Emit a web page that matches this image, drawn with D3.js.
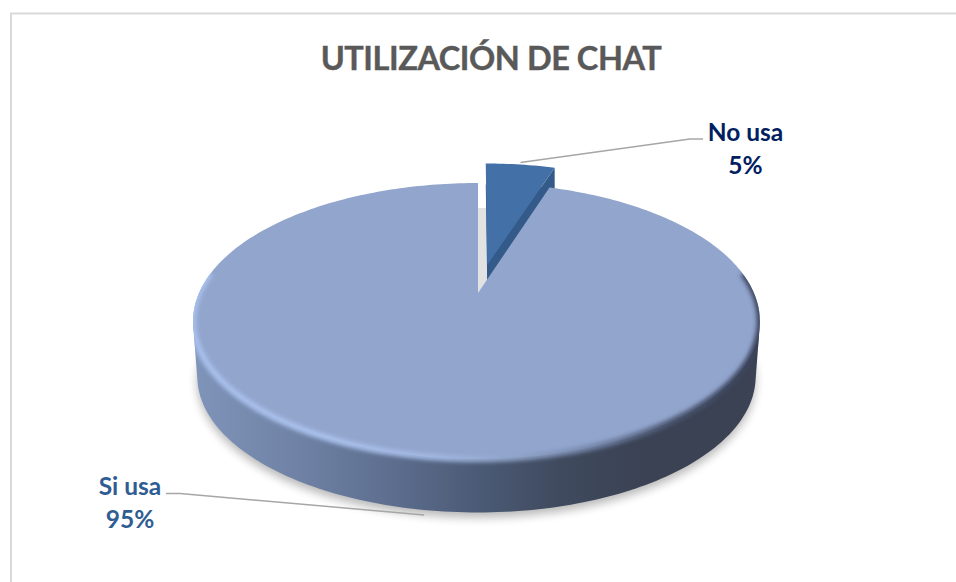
<!DOCTYPE html>
<html>
<head>
<meta charset="utf-8">
<script src="https://cdnjs.cloudflare.com/ajax/libs/d3/7.8.5/d3.min.js"></script>
<style>
    body { margin: 0; background: #fff; }
    svg { display: block; }
    text { font-family: Lato, "Open Sans", sans-serif; font-weight: 700; }
</style>
</head>
<body>
<script>
(function(){

    //chart data
    var titleText = "UTILIZACIÓN DE CHAT";
    var categories = ["No usa", "Si usa"];
    var values = [5, 95];
    var labelColors = ["#002060", "#2f5c92"];

    var width = 956,
        height = 582;

    //perspective of the tilted disc
    var apexX = 478,
        apexY = 293,
        scaleRight = 276,
        scaleLeft = 279,
        scaleV = 132.3,
        tilt = 0.2029,
        depth = 56,
        explode = 0.224;

    var svg = d3.select("body")
        .append("svg")
        .attr("width", width)
        .attr("height", height);

    var defs = svg.append("defs");

    defs.append("filter").attr("id", "blurShadow")
        .attr("x", "-10%").attr("y", "-10%").attr("width", "120%").attr("height", "120%")
        .append("feGaussianBlur").attr("stdDeviation", 5);

    defs.append("filter").attr("id", "blurRim")
        .attr("x", "-10%").attr("y", "-10%").attr("width", "120%").attr("height", "120%")
        .append("feGaussianBlur").attr("stdDeviation", 2.2);

    makeGradient("sideGradient", [
        [195, "#7f94b9"], [300, "#6f82a5"], [400, "#5b6c8c"],
        [480, "#4b5a75"], [560, "#3f4a5e"], [640, "#3b4254"], [760, "#3b4254"]
    ]);
    makeGradient("rimGradient", [
        [195, "#a9c2ee"], [330, "#acc4ef"], [440, "#a3b9e2"], [520, "#8ea1c6"],
        [590, "#7485a8"], [670, "#4c5873"], [760, "#39425a"]
    ]);

    function makeGradient(id, stops){
        var gradient = defs.append("linearGradient")
            .attr("id", id)
            .attr("gradientUnits", "userSpaceOnUse")
            .attr("x1", 195).attr("x2", 760)
            .attr("y1", 0).attr("y2", 0);
        stops.forEach(function(s){
            gradient.append("stop")
                .attr("offset", (s[0] - 195) / 565)
                .attr("stop-color", s[1]);
        });
    }

    //project a point on the pie disc (pie angle, radius 0-1) on the screen
    function project(angle, r, offsetAngle, offset, drop, shrink){
        var u = r * Math.sin(angle) + (offset || 0) * Math.sin(offsetAngle || 0),
            v = r * Math.cos(angle) + (offset || 0) * Math.cos(offsetAngle || 0),
            w = 1 + tilt * v,
            s = shrink || 1,
            scaleU = u < 0 ? scaleLeft : scaleRight;
        return [
            apexX + s * scaleU * u / w,
            apexY - s * scaleV * v / w + (drop || 0)
        ];
    }

    function arcPoints(start, end, offsetAngle, offset, drop, shrink){
        var n = Math.max(8, Math.ceil((end - start) / 0.02));
        return d3.range(n + 1).map(function(i){
            return project(start + (end - start) * i / n, 1, offsetAngle, offset, drop, shrink);
        });
    }

    function wedgePoints(d, offset, drop){
        var mid = (d.startAngle + d.endAngle) / 2;
        return [project(0, 0, mid, offset, drop)]
            .concat(arcPoints(d.startAngle, d.endAngle, mid, offset, drop));
    }

    var line = d3.line();

    var pie = d3.pie().sort(null);
    var slices = pie(values);
    var small = slices[0],
        big = slices[1],
        smallMid = (small.startAngle + small.endAngle) / 2,
        bigMid = (big.startAngle + big.endAngle) / 2;

    //chart frame, only top and left are in the picture
    svg.append("path")
        .attr("d", "M11,582V13.5H956")
        .attr("fill", "none")
        .attr("stroke", "#d9d9d9")
        .attr("stroke-width", 2);

    //title
    svg.append("text")
        .attr("x", 491)
        .attr("y", 70)
        .attr("text-anchor", "middle")
        .attr("fill", "#595959")
        .attr("stroke", "#595959")
        .attr("stroke-width", 0.4)
        .style("font-size", "32.5px")
        .style("letter-spacing", "-0.45px")
        .text(titleText);

    //soft shadow under the whole disc
    var fullCircle = arcPoints(0, 2 * Math.PI, 0, 0, depth + 5, 0.985);
    svg.append("path")
        .attr("d", line(fullCircle) + "Z")
        .attr("fill", "#000")
        .attr("opacity", 0.28)
        .attr("filter", "url(#blurShadow)");

    //grey wall seen through the gap between the slices
    svg.append("path")
        .attr("d", line(wedgePoints(small, 0, 25)) + "Z")
        .attr("fill", "#e2e2e2");

    //small slice: wall first, then the top face
    var wallTop = wedgePoints(small, explode, 0);
    var wallBottom = wedgePoints(small, explode, 21);
    svg.append("path")
        .attr("d", line(wallBottom) + "Z")
        .attr("fill", "#345a8a");
    svg.append("path")
        .attr("d", line(wallTop.slice(-1).concat(wallBottom.slice(-1)).concat([wallBottom[0], wallTop[0]])) + "Z")
        .attr("fill", "#345a8a");
    svg.append("path")
        .attr("d", line(wallTop) + "Z")
        .attr("fill", "#4270a7");

    //main slice: side band, hull of the front of the top and bottom rims
    var frontStart = 1.77,
        frontEnd = 2 * Math.PI - 1.77;
    var sideHull = d3.polygonHull(
        arcPoints(frontStart, frontEnd).concat(arcPoints(frontStart, frontEnd, 0, 0, depth, 0.985))
    );
    svg.append("path")
        .attr("d", line(sideHull) + "Z")
        .attr("fill", "url(#sideGradient)");

    //main slice: top face
    var bigFace = wedgePoints(big, 0, 0);
    svg.append("path")
        .attr("d", line(bigFace) + "Z")
        .attr("fill", "#92a5cd");

    //bevel along the front rim, blurred over face and side but not outside them
    var rimClip = defs.append("clipPath").attr("id", "rimClip");
    rimClip.append("path").attr("d", line(bigFace) + "Z");
    rimClip.append("path").attr("d", line(sideHull) + "Z");
    svg.append("g")
        .attr("clip-path", "url(#rimClip)")
        .append("path")
        .attr("d", line(arcPoints(1.42, 2 * Math.PI - 1.42)))
        .attr("fill", "none")
        .attr("stroke", "url(#rimGradient)")
        .attr("stroke-width", 6)
        .attr("filter", "url(#blurRim)");

    //leader lines
    var smallAnchor = project(smallMid, 1, smallMid, explode, -2);
    var bigAnchor = project(bigMid, 1, 0, 0, depth + 5, 0.985);
    var leaders = [
        [smallAnchor, [690, 139], [703, 139]],
        [bigAnchor, [180, 493.5], [166, 493.5]]
    ];
    svg.selectAll(".leader")
        .data(leaders)
        .enter()
        .append("path")
        .attr("class", "leader")
        .attr("d", line)
        .attr("fill", "none")
        .attr("stroke", "#a6a6a6")
        .attr("stroke-width", 1.5);

    //data labels
    var labelPos = [[745.5, 141, 174], [130, 495, 528]];
    categories.forEach(function(name, i){
        var group = svg.append("g")
            .attr("text-anchor", "middle")
            .attr("fill", labelColors[i])
            .style("font-size", "24.5px");
        group.append("text")
            .attr("x", labelPos[i][0])
            .attr("y", labelPos[i][1])
            .text(name);
        group.append("text")
            .attr("x", labelPos[i][0])
            .attr("y", labelPos[i][2])
            .text(values[i] + "%");
    });

})();
</script>
</body>
</html>
